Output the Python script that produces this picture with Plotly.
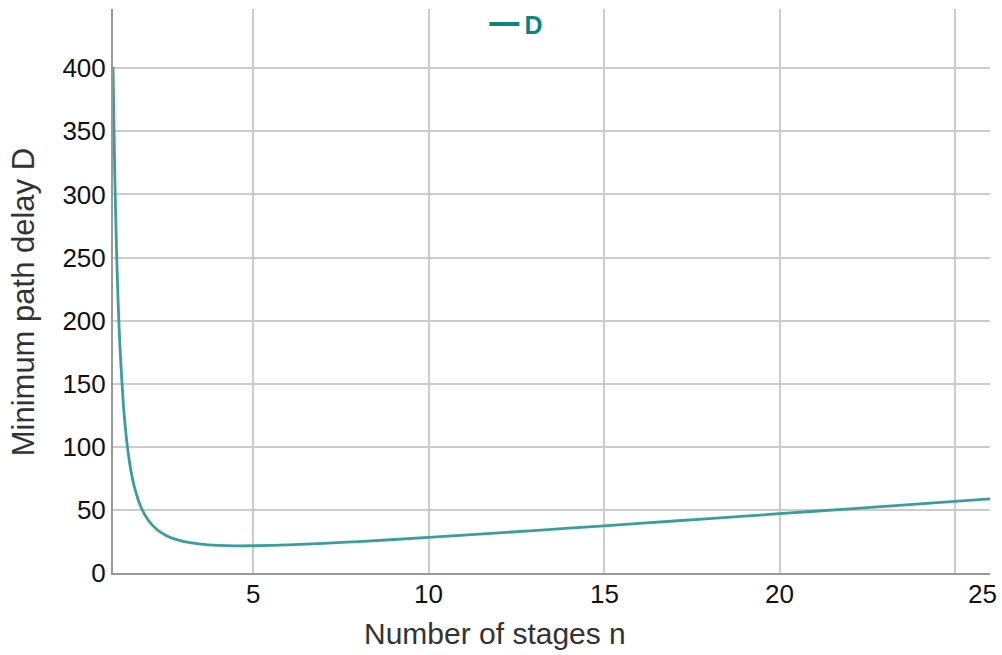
import plotly.graph_objects as go

n_stages = [1, 1.05, 1.1, 1.15, 1.2, 1.3, 1.4, 1.5, 1.6, 1.8, 2, 2.25, 2.5, 2.75, 3, 3.5, 4, 4.5, 5,
            6, 7, 8, 10, 12, 14, 16, 18, 20, 22, 24, 26]
delay_D = [401, 316.7, 256.4, 211.7, 178.1, 131.8, 102.5, 82.9, 69.3, 52.1, 42.0, 34.5, 30.0, 27.0, 25.1,
           22.9, 21.9, 21.5, 21.6, 22.3, 23.5, 24.9, 28.2, 31.8, 35.5, 39.3, 43.1, 47.0, 50.9, 54.8, 58.7]

x_ticks = [5, 10, 15, 20, 25]
x_tick_labels = ["5", "10", "15", "20", "25"]
y_ticks = [0, 50, 100, 150, 200, 250, 300, 350, 400]

FONT = "Liberation Sans, Arial, sans-serif"

fig = go.Figure()
fig.add_trace(go.Scatter(x=n_stages, y=delay_D, mode="lines", name="D",
                         line=dict(color="#3a9e9e", width=2.8, shape="spline", smoothing=0.6),
                         showlegend=False))
fig.add_trace(go.Scatter(x=[None], y=[None], mode="lines", name="D",
                         line=dict(color="#0a8582", width=4)))

# x tick labels as annotations (the last one is nudged right, as in the reference)
for i, (v, t) in enumerate(zip(x_ticks, x_tick_labels)):
    fig.add_annotation(x=v, y=0, xref="x", yref="paper", text=t, showarrow=False,
                       xanchor="center", yanchor="top", yshift=-4,
                       xshift=28 if i == len(x_ticks) - 1 else 0,
                       font=dict(family=FONT, size=26, color="#111111"))

fig.update_layout(
    width=1002, height=655,
    margin=dict(l=113, r=12, t=9, b=82, autoexpand=False),
    plot_bgcolor="white", paper_bgcolor="white",
    font=dict(family=FONT),
    legend=dict(orientation="h", x=0.46, y=0.973, xanchor="center", yanchor="middle",
                font=dict(size=25, color="#0a8582", family=FONT, weight="bold"),
                bgcolor="rgba(0,0,0,0)", itemwidth=30),
    xaxis=dict(range=[1, 26], tickvals=x_ticks, showticklabels=False,
               showgrid=True, gridcolor="#cccccc", gridwidth=2,
               showline=True, linecolor="#999999", linewidth=2, zeroline=False, ticks=""),
    yaxis=dict(range=[0, 447], tickvals=y_ticks,
               tickfont=dict(family=FONT, size=26, color="#111111"),
               showgrid=True, gridcolor="#cccccc", gridwidth=2,
               showline=True, linecolor="#999999", linewidth=2, zeroline=False, ticks=""),
)
# axis titles
fig.add_annotation(x=0.5, y=0, xref="paper", yref="paper", text="Number of stages n", showarrow=False,
                   xanchor="center", yanchor="top", yshift=-42, xshift=-57,
                   font=dict(family=FONT, size=30, color="#333333"))
fig.add_annotation(x=0, y=0.48, xref="paper", yref="paper", text="Minimum path delay D", showarrow=False,
                   textangle=-90, xanchor="center", yanchor="middle", xshift=-90,
                   font=dict(family=FONT, size=31, color="#333333"))

fig.write_html("out.html")
